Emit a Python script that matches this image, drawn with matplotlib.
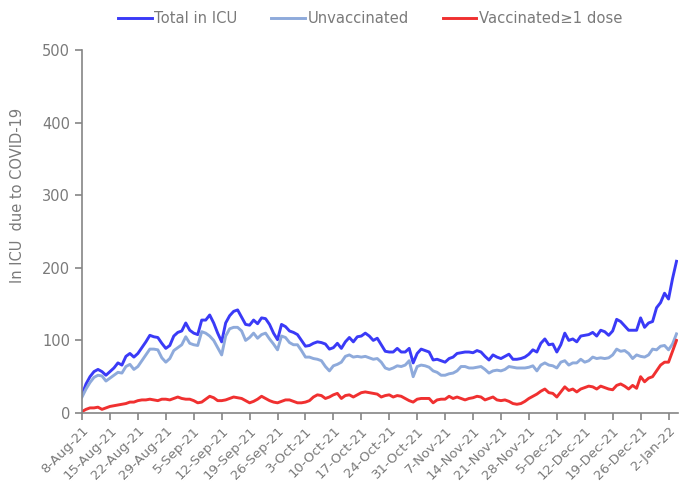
import matplotlib
matplotlib.use("Agg")
import matplotlib.pyplot as plt
import pandas as pd

# daily values, 8-Aug-21 .. 4-Jan-22
start_date = "2021-08-08"

total_icu = [25, 40, 50, 57, 60, 57, 52, 57, 62, 69, 66, 78, 82, 77, 82, 90, 98, 107, 105, 104,
             96, 89, 93, 106, 111, 113, 124, 114, 110, 108, 128, 128, 135, 124, 110, 98, 124, 134, 140, 142,
             132, 122, 121, 128, 123, 131, 130, 122, 110, 101, 122, 119, 113, 111, 108, 100, 92, 93, 96, 98,
             97, 95, 88, 90, 96, 89, 98, 104, 98, 105, 106, 110, 106, 100, 103, 94, 85, 84, 84, 89,
             84, 84, 89, 69, 82, 88, 86, 84, 73, 74, 72, 70, 75, 77, 82, 83, 84, 84, 83, 86,
             84, 78, 73, 80, 77, 75, 78, 81, 74, 74, 75, 77, 81, 87, 84, 96, 102, 94, 95, 84,
             94, 110, 100, 102, 98, 106, 107, 108, 111, 106, 114, 112, 107, 113, 129, 126, 120, 114, 114, 114,
             131, 118, 124, 126, 145, 152, 165, 157, 185, 209]

unvaccinated = [22, 33, 42, 49, 52, 51, 44, 48, 52, 56, 55, 64, 67, 60, 64, 72, 80, 88, 88, 87,
                76, 70, 75, 86, 90, 94, 105, 96, 94, 93, 112, 110, 106, 100, 90, 80, 106, 116, 118, 118,
                113, 100, 104, 110, 103, 108, 110, 102, 95, 87, 106, 104, 97, 94, 94, 86, 77, 77, 75, 74,
                72, 64, 58, 65, 67, 70, 78, 80, 77, 78, 77, 78, 76, 74, 75, 70, 62, 60, 62, 65,
                64, 66, 72, 50, 64, 66, 65, 63, 58, 56, 52, 52, 54, 55, 58, 64, 64, 62, 62, 63,
                64, 60, 55, 58, 59, 58, 60, 64, 63, 62, 62, 62, 63, 65, 58, 66, 69, 66, 65, 62,
                70, 72, 66, 69, 69, 74, 70, 72, 77, 75, 76, 75, 76, 80, 88, 85, 86, 82, 75, 80,
                78, 77, 80, 88, 87, 92, 93, 87, 95, 109]

vaccinated = [2, 5, 7, 7, 8, 5, 7, 9, 10, 11, 12, 13, 15, 15, 17, 18, 18, 19, 18, 17,
              19, 19, 18, 20, 22, 20, 19, 19, 17, 14, 15, 19, 23, 21, 17, 17, 18, 20, 22, 21,
              20, 17, 14, 16, 19, 23, 20, 17, 15, 14, 16, 18, 18, 16, 14, 14, 15, 17, 22, 25,
              24, 20, 22, 25, 27, 20, 24, 25, 22, 25, 28, 29, 28, 27, 26, 22, 24, 25, 22, 24,
              23, 20, 17, 15, 19, 20, 20, 20, 14, 18, 19, 19, 23, 20, 22, 20, 18, 20, 21, 23,
              22, 18, 20, 22, 18, 17, 18, 16, 13, 12, 13, 16, 20, 23, 26, 30, 33, 28, 27, 22,
              29, 36, 31, 33, 29, 33, 35, 37, 36, 33, 37, 35, 33, 32, 38, 40, 37, 33, 38, 34,
              50, 43, 48, 50, 58, 66, 70, 70, 85, 100]

dates = pd.date_range(start_date, periods=len(total_icu), freq="D")
tick_dates = pd.date_range(start_date, dates[-1], freq="7D")
tick_labels = [f"{d.day}-{d.strftime('%b-%y')}" for d in tick_dates]

grey = "#858585"
txt = "#7a7a7a"

fig = plt.figure(figsize=(6.79, 4.91), dpi=100)
ax = fig.add_axes([0.1208, 0.1589, 0.877, 0.7391])

l1, = ax.plot(dates, total_icu, color="#3a3af7", lw=2.1, label="Total in ICU")
l2, = ax.plot(dates, unvaccinated, color="#8eaadb", lw=2.1, label="Unvaccinated")
l3, = ax.plot(dates, vaccinated, color="#f03030", lw=2.1, label="Vaccinated≥1 dose")

ax.set_ylim(0, 500)
ax.set_yticks(range(0, 501, 100))
ax.set_xlim(dates[0], dates[-1] + pd.Timedelta(hours=6))
ax.set_xticks(tick_dates)
ax.set_xticklabels(tick_labels, rotation=45, ha="right", rotation_mode="anchor", fontsize=9.5)

for s in ["top", "right"]:
    ax.spines[s].set_visible(False)
for s in ["left", "bottom"]:
    ax.spines[s].set_color(grey)
    ax.spines[s].set_linewidth(1.2)
ax.tick_params(axis="both", colors=grey, labelcolor=txt, length=5, width=1.2)
ax.tick_params(axis="y", labelsize=10.5)
ax.tick_params(axis="x", pad=3)

ax.set_ylabel("In ICU  due to COVID-19", color=txt, fontsize=10.5)
ax.yaxis.set_label_coords(-0.096, 0.6)

fig.legend(handles=[l1, l2, l3], loc="center left", bbox_to_anchor=(0.174, 0.963), ncol=3,
           frameon=False, fontsize=10.6, handlelength=2.3, handletextpad=0.15, columnspacing=2.3,
           labelcolor=txt, borderaxespad=0, borderpad=0)

fig.savefig("out.png", dpi=100)
